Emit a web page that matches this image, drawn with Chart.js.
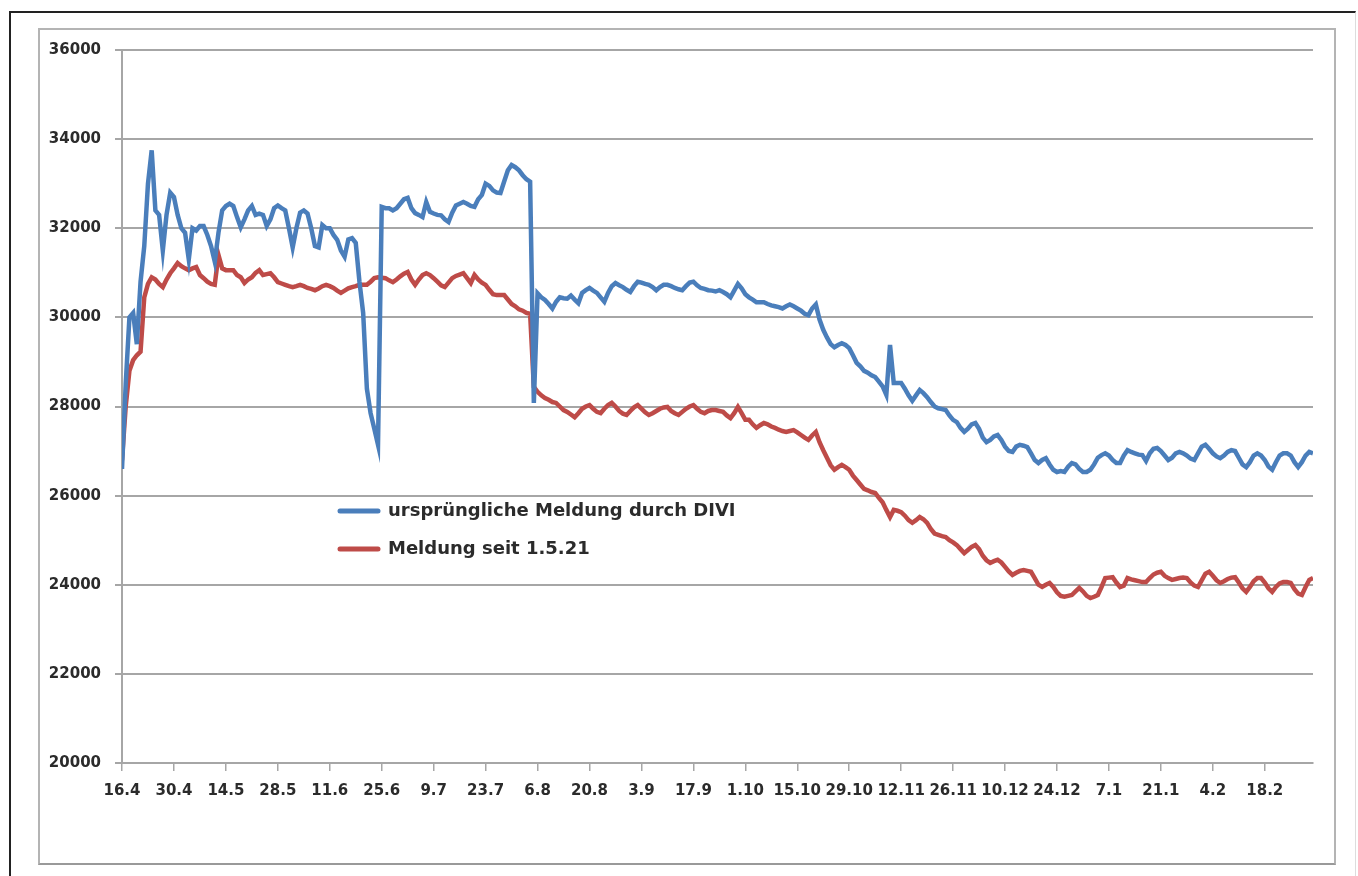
<!DOCTYPE html>
<html>
<head>
<meta charset="utf-8">
<script src="https://cdn.jsdelivr.net/npm/chart.js@4"></script>
<style>
  html, body { margin: 0; padding: 0; background: #fff; }
  #wrap { position: relative; width: 1358px; height: 876px; overflow: hidden; }
  /* äußerer Rahmen und grauer Diagrammkasten */
  #outer { position: absolute; left: 9px; top: 11px; width: 1344px; height: 880px;
           border-left: 2px solid #222; border-top: 2px solid #222; border-right: 1px solid #ddd; }
  #box { position: absolute; left: 38px; top: 28px; width: 1294px; height: 833px;
         border: 2px solid #b4b4b4; border-bottom-color: #999; }
  canvas { position: absolute; left: 0; top: 0; }
</style>
</head>
<body>
<div id="wrap">
  <div id="outer"></div>
  <div id="box"></div>
  <canvas id="chart" width="1358" height="876"></canvas>
</div>
<script>
// Beschriftung der x-Achse (alle 14 Tage, ab 16.4.2020)
const tickLabels = ['16.4', '30.4', '14.5', '28.5', '11.6', '25.6', '9.7', '23.7', '6.8', '20.8',
  '3.9', '17.9', '1.10', '15.10', '29.10', '12.11', '26.11', '10.12', '24.12', '7.1',
  '21.1', '4.2', '18.2'];

const seriesNames = ['ursprüngliche Meldung durch DIVI', 'Meldung seit 1.5.21'];

// tägliche Werte, eine Zeile = eine Woche
const divi = [
  26600, 28500, 30000, 30100, 29400, 30800, 31600,
  33000, 33750, 32400, 32300, 31500, 32300, 32800,
  32700, 32300, 32000, 31900, 31300, 32000, 31950,
  32050, 32050, 31850, 31600, 31250, 31900, 32400,
  32500, 32550, 32500, 32250, 32020, 32200, 32400,
  32500, 32300, 32330, 32300, 32050, 32200, 32450,
  32510, 32450, 32400, 32000, 31570, 32000, 32350,
  32400, 32330, 32000, 31600, 31570, 32070, 32000,
  32000, 31850, 31740, 31500, 31360, 31750, 31780,
  31670, 30800, 30100, 28400, 27850, 27500, 27140,
  32480, 32450, 32450, 32400, 32450, 32550, 32650,
  32680, 32450, 32340, 32300, 32250, 32590, 32370,
  32330, 32300, 32290, 32200, 32140, 32350, 32510,
  32550, 32590, 32550, 32500, 32480, 32650, 32750,
  33000, 32950, 32850, 32800, 32790, 33050, 33300,
  33420, 33370, 33300, 33190, 33100, 33045, 28080,
  30540, 30450, 30390, 30300, 30200, 30350, 30450,
  30430, 30420, 30490, 30400, 30320, 30550, 30610,
  30660, 30600, 30550, 30450, 30350, 30550, 30700,
  30770, 30720, 30680, 30620, 30570, 30700, 30800,
  30780, 30750, 30730, 30680, 30610, 30680, 30730,
  30730, 30700, 30660, 30630, 30610, 30700, 30780,
  30800, 30720, 30660, 30640, 30610, 30600, 30580,
  30610, 30570, 30520, 30450, 30600, 30750, 30650,
  30520, 30450, 30400, 30340, 30340, 30340, 30300,
  30270, 30250, 30230, 30200, 30250, 30290, 30250,
  30200, 30150, 30080, 30050, 30200, 30290, 29950,
  29720, 29550, 29400, 29330, 29380, 29420, 29380,
  29310, 29150, 28980, 28900, 28800, 28760, 28700,
  28660, 28560, 28450, 28260, 29380, 28530, 28530,
  28530, 28400, 28250, 28130, 28250, 28370, 28300,
  28210, 28100, 28000, 27960, 27940, 27920, 27800,
  27700, 27650, 27520, 27430, 27500, 27600, 27630,
  27500, 27300, 27200, 27250, 27330, 27360, 27250,
  27100, 27000, 26980, 27100, 27140, 27120, 27090,
  26950, 26800, 26730, 26800, 26840, 26700, 26580,
  26530, 26550, 26530, 26650, 26730, 26700, 26600,
  26530, 26530, 26580, 26700, 26850, 26910, 26950,
  26900, 26800, 26730, 26730, 26900, 27020, 26980,
  26950, 26920, 26910, 26780, 26950, 27050, 27070,
  27000, 26900, 26800, 26850, 26950, 26980, 26950,
  26900, 26830, 26800, 26950, 27100, 27140, 27050,
  26950, 26880, 26840, 26900, 26980, 27020, 27000,
  26850, 26700, 26640, 26750, 26900, 26950, 26900,
  26800, 26650, 26580, 26750, 26900, 26950, 26950,
  26900, 26750, 26640, 26750, 26900, 26980, 26950
];

const neu = [
  26800, 28000, 28800, 29040, 29150, 29230, 30450,
  30750, 30900, 30850, 30750, 30680, 30850, 30990,
  31100, 31220, 31150, 31100, 31060, 31100, 31130,
  30950, 30880, 30800, 30750, 30730, 31400, 31100,
  31060, 31060, 31060, 30950, 30900, 30770, 30850,
  30900, 31000, 31060, 30950, 30970, 30990, 30900,
  30790, 30760, 30730, 30700, 30680, 30700, 30730,
  30700, 30660, 30640, 30610, 30650, 30700, 30730,
  30700, 30660, 30600, 30550, 30600, 30650, 30680,
  30700, 30730, 30730, 30730, 30800, 30880, 30900,
  30890, 30880, 30830, 30790, 30850, 30920, 30980,
  31020, 30850, 30730, 30850, 30950, 30990, 30950,
  30880, 30800, 30720, 30680, 30780, 30880, 30930,
  30960, 30990, 30880, 30770, 30950, 30850, 30780,
  30730, 30620, 30520, 30500, 30500, 30500, 30400,
  30300, 30250, 30180, 30150, 30100, 30080, 28440,
  28330, 28250, 28190, 28150, 28100, 28080, 28000,
  27920, 27880, 27820, 27760, 27850, 27950, 28000,
  28030, 27950, 27880, 27850, 27950, 28030, 28080,
  28000, 27900, 27840, 27810, 27900, 27980, 28030,
  27950, 27870, 27810, 27850, 27900, 27950, 27980,
  27990, 27900, 27850, 27810, 27880, 27950, 28000,
  28030, 27950, 27880, 27850, 27900, 27920, 27920,
  27900, 27880, 27800, 27740, 27850, 27990, 27850,
  27700, 27700, 27600, 27520, 27580, 27630, 27600,
  27550, 27520, 27480, 27450, 27430, 27450, 27470,
  27420, 27360, 27300, 27250, 27350, 27430, 27200,
  27020, 26850, 26680, 26580, 26640, 26690, 26640,
  26580, 26450, 26350, 26250, 26150, 26120, 26080,
  26060, 25950, 25850, 25680, 25520, 25680, 25660,
  25630, 25550, 25450, 25390, 25450, 25520, 25470,
  25390, 25250, 25150, 25120, 25090, 25070, 25000,
  24950, 24890, 24800, 24710, 24780, 24850, 24890,
  24800, 24650, 24550, 24490, 24530, 24560, 24500,
  24400, 24300, 24220, 24270, 24310, 24330, 24310,
  24290, 24150, 24000, 23950, 24000, 24040, 23950,
  23830, 23750, 23730, 23750, 23770, 23850, 23930,
  23850, 23750, 23700, 23730, 23770, 23950, 24150,
  24160, 24170, 24050, 23950, 23980, 24150, 24120,
  24100, 24080, 24060, 24060, 24150, 24230, 24270,
  24290, 24200, 24150, 24110, 24130, 24150, 24160,
  24150, 24050, 23980, 23950, 24100, 24250, 24290,
  24200, 24100, 24040, 24080, 24130, 24160, 24170,
  24050, 23920, 23840, 23950, 24080, 24150, 24150,
  24050, 23920, 23840, 23950, 24030, 24060, 24060,
  24040, 23900, 23800, 23770, 23950, 24110, 24150
];

const blau = '#4a7ebb';
const rot = '#be4b48';
const grau = '#a6a6a6';

// x = Tag seit 16.4.2020
const toPoints = (werte) => werte.map((v, i) => ({ x: i, y: v }));

// Legende liegt im Diagramm, deshalb selbst gezeichnet
const legendeImDiagramm = {
  id: 'legendeImDiagramm',
  afterDraw(chart) {
    const ctx = chart.ctx;
    const left = chart.chartArea.left + 218;
    const top = chart.chartArea.top + 461;
    ctx.save();
    ctx.font = 'bold 18px "DejaVu Sans"';
    ctx.textBaseline = 'middle';
    chart.data.datasets.forEach((ds, i) => {
      const y = top + i * 38;
      ctx.strokeStyle = ds.borderColor;
      ctx.lineWidth = 5;
      ctx.lineCap = 'round';
      ctx.beginPath();
      ctx.moveTo(left, y);
      ctx.lineTo(left + 38, y);
      ctx.stroke();
      ctx.fillStyle = '#2b2b2b';
      ctx.fillText(ds.label, left + 48, y);
    });
    ctx.restore();
  }
};

const ctx = document.getElementById('chart');
new Chart(ctx, {
  type: 'line',
  data: {
    datasets: [
      {
        label: seriesNames[0],
        data: toPoints(divi),
        borderColor: blau,
        backgroundColor: blau,
        borderWidth: 4.5,
        pointRadius: 0,
        tension: 0,
      },
      {
        label: seriesNames[1],
        data: toPoints(neu),
        borderColor: rot,
        backgroundColor: rot,
        borderWidth: 4.5,
        pointRadius: 0,
        tension: 0,
      }
    ]
  },
  options: {
    responsive: false,
    animation: false,
    layout: {
      padding: { left: 0, top: 50, right: 45, bottom: 0 }
    },
    plugins: {
      legend: { display: false },
      tooltip: { enabled: false },
    },
    scales: {
      x: {
        type: 'linear',
        min: 0,
        max: divi.length - 1,
        afterFit: (scale) => { scale.height = 113; },
        grid: {
          drawOnChartArea: false,
          color: grau,
          lineWidth: 1.5,
          tickLength: 8,
        },
        border: { color: grau, width: 2 },
        ticks: {
          stepSize: 14,
          includeBounds: false,
          autoSkip: false,
          maxRotation: 0,
          padding: 11,
          color: '#2b2b2b',
          font: { family: 'DejaVu Sans', size: 15, weight: 'bold' },
          callback: (value) => tickLabels[value / 14] ?? '',
        }
      },
      y: {
        min: 20000,
        max: 36000,
        afterFit: (scale) => { scale.width = 122; },
        grid: {
          color: grau,
          lineWidth: 2,
          tickLength: 7,
        },
        border: { color: grau, width: 2 },
        ticks: {
          stepSize: 2000,
          padding: 14,
          color: '#2b2b2b',
          font: { family: 'DejaVu Sans', size: 15, weight: 'bold' },
          callback: (value) => String(value),
        }
      }
    }
  },
  plugins: [legendeImDiagramm],
});
</script>
</body>
</html>
